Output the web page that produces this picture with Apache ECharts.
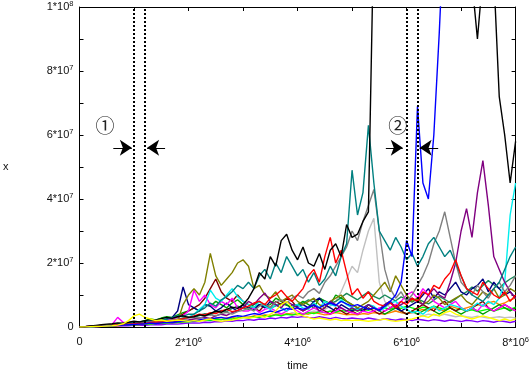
<!DOCTYPE html>
<html>
<head>
<meta charset="utf-8">
<script src="https://cdn.jsdelivr.net/npm/echarts@6/dist/echarts.min.js"></script>
<style>html,body{margin:0;padding:0;background:#fff;}#c{width:532px;height:390px;}</style>
</head>
<body>
<div id="c"></div>
<script>
// time axis, in units of 10^6
const time = [0,0.1,0.2,0.3,0.4,0.5,0.6,0.7,0.8,0.9,1.0,
1.1,1.2,1.3,1.4,1.5,1.6,1.7,1.8,1.9,2.0,
2.1,2.2,2.3,2.4,2.5,2.6,2.7,2.8,2.9,3.0,
3.1,3.2,3.3,3.4,3.5,3.6,3.7,3.8,3.9,4.0,
4.1,4.2,4.3,4.4,4.5,4.6,4.7,4.8,4.9,5.0,
5.1,5.2,5.3,5.4,5.5,5.6,5.7,5.8,5.9,6.0,
6.1,6.2,6.3,6.4,6.5,6.6,6.7,6.8,6.9,7.0,
7.1,7.2,7.3,7.4,7.5,7.6,7.7,7.8,7.9,8.0];

// series values, in units of 10^6
const silver = [0,0.05,0.1,0.15,0.2,0.25,0.3,0.35,0.4,0.5,0.6,
0.7,0.8,0.9,1.0,1.1,1.2,1.3,1.4,1.5,1.6,
1.8,2.0,1.9,2.2,2.4,2.3,2.6,2.8,2.5,3.0,
3.2,3.0,3.5,3.8,3.4,4.0,4.2,3.8,4.5,4.2,
4.0,4.5,5.0,4.6,5.5,6.5,8.0,11,15,19,
17,24,30,34,14,8,6,5,4.5,4,
4.5,4,3.5,4,3.8,3.5,4,3.6,3.2,3.5,
3.2,3.0,3.4,3.1,2.8,3.0,3.2,2.9,3.1,2.8];
const violet = [0,0.05,0.1,0.1,0.2,0.2,0.3,0.3,0.4,0.4,0.5,
0.6,0.5,0.7,0.8,0.7,0.9,1.0,0.9,1.1,1.2,
1.3,1.2,1.5,1.4,1.7,1.6,1.9,1.8,2.1,2.0,
2.3,2.1,2.5,2.4,2.8,2.6,3.0,2.8,3.2,3.0,
3.3,3.0,2.8,3.2,2.9,2.6,3.0,2.7,2.5,2.8,
2.6,2.4,2.8,2.5,2.2,2.6,2.4,2.1,2.5,2.3,
2.0,2.4,2.2,1.9,2.3,2.1,1.8,2.2,2.0,1.7,
2.1,1.9,1.6,2.0,1.8,1.5,1.9,1.7,1.4,1.8];
const orange = [0,0.05,0.1,0.2,0.2,0.3,0.4,0.4,0.5,0.6,0.7,
0.8,0.9,1.0,1.2,1.1,1.3,1.5,1.4,1.6,1.8,
2.0,2.2,2.0,2.4,2.6,2.3,2.8,3.0,2.7,3.2,
3.0,3.5,3.2,3.8,3.5,4.0,3.6,4.2,4.0,3.8,
4.2,4.0,4.5,4.2,3.8,4.0,4.5,4.2,3.8,4.0,
3.8,4.2,4.0,4.5,4.2,4.0,4.5,5.0,4.5,4.2,
4.5,5.0,5.5,5.0,6.0,5.5,5.0,6.5,6.0,5.5,
6.0,6.5,7.0,6.5,7.5,8.0,7.0,7.5,8.5,9.0];
const lime = [0,0.1,0.1,0.2,0.3,0.3,0.4,0.5,0.6,0.6,0.7,
0.8,1.0,0.9,1.1,1.3,1.2,1.5,1.4,1.7,1.6,
1.8,2.0,2.2,2.0,2.4,2.3,2.6,2.4,2.8,3.0,
2.8,3.2,3.0,3.5,3.3,3.8,3.5,4.0,3.7,4.2,
4.0,4.5,4.2,4.8,4.5,5.0,4.6,5.2,4.8,5.5,
5.0,5.5,5.2,5.8,5.4,6.0,5.5,6.2,5.8,6.5,
6.0,5.5,6.2,5.8,6.5,6.0,5.5,6.0,5.2,5.6,
5.0,5.4,4.8,5.2,5.6,5.0,5.5,6.0,5.5,6.2];
const darkgreen = [0,0.1,0.2,0.3,0.3,0.5,0.6,0.6,0.8,0.9,1.0,
1.2,1.4,1.3,1.6,1.8,2.1,1.9,2.4,2.8,3.2,
3.0,3.6,4.2,3.8,4.6,5.2,4.8,5.8,6.5,6.0,
5.5,6.2,7.0,6.4,5.8,6.6,7.4,6.8,6.0,6.8,
7.5,8.5,7.8,9.0,8.2,7.4,8.0,9.2,10.5,9.5,
8.5,9.8,11,9.6,8.8,10,9.0,8.2,9.4,8.6,
7.8,8.8,8.0,7.2,8.4,9.6,8.6,7.6,8.8,10,
11,12.5,11.2,13,14.5,13.2,12,13.8,15,16];
const green = [0,0.1,0.2,0.3,0.5,0.6,0.7,0.9,1.0,1.3,1.6,
1.5,2.0,2.5,2.2,2.8,3.2,3.0,3.8,4.5,5.0,
6,5,7,6.5,8,7,6,7.5,8.5,7,
6,7,8,6.5,7,9,8,7,6,7,
8,7,6,9,8,7,10,9,8,7,
6,5,7,6,5,4,5,6,5,4,
5,4,5,6,5,4,5,6,5,4,
5,6,5,4,5,6,7,6,5,6];
const maroon = [0,0.1,0.2,0.3,0.3,0.4,0.5,0.6,0.8,1.0,1.1,
1.3,1.5,1.4,1.8,2.0,2.4,2.8,3.2,4.0,5.0,
6,7,9,12,15,11,9,8,10,8,
7,6,5,7,6,8,7,9,8,6,
5,6,7,6,5,4,6,5,4,5,
4,5,6,5,4,5,6,7,5,4,
5,6,7,6,5,7,8,6,5,6,
5,6,7,8,6,5,6,7,6,5];
const navy = [0,0.1,0.2,0.2,0.3,0.4,0.5,0.6,0.7,0.8,0.9,
1.0,1.2,1.4,1.5,2.0,2.5,3.0,5.0,12.5,7.0,
6,5,7,6.5,5,6,7.5,6,5,7,
6,5.5,7,6,8,7,6,5,7,6.5,
7,6,8,9,7,6,5,7,6,5,
6,5,7,6,5.5,7,8,6,5,6,
7,8,10,12,9,11,10,12,14,11,
10,12,13,15,11,14,12,10,11,9];
const magenta = [0,0.1,0.2,0.3,0.4,0.5,0.8,3.0,1.5,1.2,1.0,
1.3,1.5,1.8,1.6,2.0,2.2,2.5,3.0,3.5,5.0,
11.5,8,10,7,6,8,7,9,6,5,
5,6,4.5,5.5,6,5,4,5,6,5,
4,5,6,5,4.5,4,5,6,5,4.5,
4,5,4.5,5,6,5,6,7,8,10,
11,9,12,10,8,7,6,7,8,6,
5,6,5,7,6,5,6,7,6,5];
const cyan = [0,0.1,0.1,0.2,0.3,0.4,0.5,0.5,0.6,0.7,0.8,
1.0,1.1,1.3,1.2,1.5,1.8,1.6,2.0,2.4,3.0,
4.0,5.5,7.0,11.5,9.0,8.0,10,12,9.5,8.0,
7.0,6.0,8.0,6.5,5.5,7.0,6.0,5.0,6.5,7.0,
6.0,5.5,7.5,6.0,8.0,7.0,6.5,8.5,7.0,6.0,
5.5,6.0,7.0,6.5,5.0,6.0,7.5,8.0,6.5,5.5,
4.5,5.0,4.0,5.5,6.5,5.0,6.0,7.0,6.5,6.0,
5.0,6.0,7.5,6.5,8.0,7.0,9.0,14,35,45];
const olive = [0,0.1,0.2,0.3,0.4,0.5,0.5,0.6,0.8,0.9,1.1,
1.2,1.4,1.3,1.6,1.9,1.7,2.2,1.8,7,10,
12,10,14,23,16,13,15,17,20,21,
19,12,13,10,9,11,8,9,10,8,
7,8,9,7,6,8,9,10,8,7,
6,7,8,10,12,14,11,16,13,10,
8,9,7,8,10,9,7,8,9,10,
8,7,9,11,10,12,9,10,12,11];
const purple = [0,0.1,0.2,0.2,0.3,0.4,0.5,0.5,0.6,0.7,0.8,
0.9,1.0,1.2,1.1,1.4,1.6,1.5,1.8,2.0,2.2,
2.5,2.8,3.0,2.7,3.5,4.0,3.6,4.5,5.0,6.0,
8,7,9,10.6,8,7,6,8,7,6,
5,6,7,5,6,8,7,6,5,6,
5,6,7,6,5,7,8,6,7,8,
9,8,7,10,12,10,9,14,20,30,
37,28,42,52,38,22,18,14,11,9];
const gray = [0,0.1,0.2,0.3,0.5,0.6,0.7,0.9,1.0,1.1,1.2,
1.3,1.5,1.6,1.8,1.7,2.0,2.2,2.5,2.3,2.8,
3.0,2.8,3.4,3.8,3.5,4.2,4.6,4.0,4.8,5.2,
5.8,5.0,6.5,7.2,6.0,7.8,8.5,7.5,9.0,10,
9,11,12,10.5,14,16,19,22,25,30,
27,33,38,43,30,18,12,9,11,8,
10,13,16,20,26,30,36,28,20,14,
12,10,13,11,9,12,14,11,13,16];
const teal = [0,0.1,0.2,0.4,0.5,0.7,0.8,1.0,1.1,1.3,1.5,
1.4,1.7,2.0,2.2,2.5,2.4,3.0,3.5,3.3,4.0,
4.0,5.0,6.0,7.5,6.5,8.5,9.5,11,13,12,
14,12,16,18,15,20,17,22,19,16,
18,14,17,13,15,19,16,22,26,49,
35,42,63,45,30,27,24,28,25,21,
23,19,22,26,28,25,22,24,20,16,
12,10,9,8,10,12,14,18,22,25];
const red = [0,0.1,0.2,0.3,0.4,0.5,0.6,0.7,0.8,0.9,1.0,
1.2,1.1,1.4,1.6,1.5,1.8,2.0,2.2,2.6,3.0,
3.5,4.0,3.8,4.5,4.2,5.0,5.5,4.8,5.2,6.0,
6.5,7.5,8.0,7.0,9.0,10,11.5,9.5,8.0,10,
12,16,18,14,22,28,20,24,17,10,
12,9,11,8,7,6.5,7.5,6,8,7,
9,8,11,10,13,12,15,17,21,16,
12,11,10,14,12,10,9,11,8,10];
const blue = [0,0.1,0.1,0.2,0.3,0.4,0.4,0.5,0.6,0.7,0.8,
0.9,1.0,1.2,1.1,1.3,1.5,1.4,1.6,1.8,2.0,
1.8,2.2,2.5,2.3,2.8,3.0,2.7,3.2,3.5,3.3,
3.8,4.2,3.9,4.5,5.0,4.6,5.2,5.8,5.5,6.0,
5.5,6.2,6.8,6.0,7.0,7.5,6.8,8.0,7.2,6.5,
7.0,6.2,5.5,6.0,5.2,6.5,8.0,10,14,27,
22,69,45,40,60,92,130,150,160,160,
160,160,160,160,160,160,160,160,160,160];
const black = [0,0.1,0.3,0.5,0.7,0.9,1.0,1.3,1.2,1.5,1.8,
1.6,2.0,2.3,2.1,2.6,3.0,2.7,3.2,3.5,3.0,
3.2,3.8,3.5,4.2,5.0,4.6,5.5,6.2,5.8,7.0,
9,12,17,15,22,19,27,29,24,21,
25,20,19,23,18,24,26,22,32,28,
29,33,36,125,140,150,160,150,140,150,
160,150,140,150,160,150,140,130,120,115,
112,108,90,110,125,110,72,60,45,58];
const yellow = [0,0.05,0.1,0.15,0.2,0.3,0.4,0.6,1.0,2.0,3.5,
4.0,3.0,2.5,2.0,2.2,1.8,2.0,2.2,2.0,1.8,
2.0,1.8,2.2,2.5,2.0,1.8,2.0,2.2,2.5,3.0,
2.8,3.0,3.5,3.0,4.0,5.0,7.0,8.0,6.0,4.0,
3.5,3.0,2.5,2.8,2.5,2.2,2.5,2.0,2.2,2.0,
2.2,2.0,1.8,2.0,2.2,2.5,2.0,1.8,2.0,2.2,
2.5,3.0,3.5,3.0,4.0,3.5,4.5,5.0,4.0,3.5,
3.0,2.5,3.0,3.5,3.0,2.5,2.0,2.5,2.0,2.5];

const seriesList = [
  ['silver', silver, '#c0c0c0'],
  ['violet', violet, '#8000ff'],
  ['orange', orange, '#ff8000'],
  ['lime', lime, '#00ff00'],
  ['darkgreen', darkgreen, '#1a8a5a'],
  ['green', green, '#00a000'],
  ['maroon', maroon, '#800000'],
  ['navy', navy, '#000080'],
  ['magenta', magenta, '#ff00ff'],
  ['cyan', cyan, '#00eeee'],
  ['olive', olive, '#808000'],
  ['purple', purple, '#800080'],
  ['gray', gray, '#808080'],
  ['teal', teal, '#008080'],
  ['red', red, '#ff0000'],
  ['blue', blue, '#0000ff'],
  ['black', black, '#000000'],
  ['yellow', yellow, '#ffff00']
];

// tick labels
const xTicks = ['0', '2*10^6', '4*10^6', '6*10^6', '8*10^6'];
const yTicks = ['0', '2*10^7', '4*10^7', '6*10^7', '8*10^7', '1*10^8'];

// annotations (data units)
const gapLines = [1.0, 1.2, 6.0, 6.2];
const arrowY = 56;
const arrows = [[0.62, 0.96], [1.57, 1.24], [5.62, 5.93], [6.58, 6.24]];
const circleLabels = [['①', 0.47, 63], ['②', 5.84, 63]];

function richLabel(s) {
  const p = s.split('^');
  return p.length > 1 ? '{b|' + p[0] + '}{s|' + p[1] + '}' : '{b|' + s + '}';
}
const rich = {
  b: { fontSize: 11, fontFamily: 'Liberation Sans', color: '#111' },
  s: { fontSize: 7.5, fontFamily: 'Liberation Sans', color: '#111', padding: [0, 0, 6, 0] }
};

const chart = echarts.init(document.getElementById('c'), null, { renderer: 'canvas' });

const series = seriesList.map(([name, vals, color]) => ({
  name, type: 'line', xAxisIndex: 0, yAxisIndex: 0,
  data: time.map((t, i) => [t, vals[i]]),
  showSymbol: false, symbol: 'none',
  lineStyle: { width: 1.4, color }, itemStyle: { color },
  clip: true, silent: true, animation: false
}));

// dotted gap lines on top-most series
series[series.length - 1].markLine = {
  silent: true, animation: false, symbol: ['none', 'none'],
  label: { show: false }, emphasis: { disabled: true },
  lineStyle: { type: [2, 2], width: 2, color: '#000', cap: 'butt' },
  data: gapLines.map(x => ({ xAxis: x }))
};

// arrows + circled numbers on black series
const blackS = series.find(s => s.name === 'black');
blackS.markLine = {
  silent: true, animation: false, symbol: ['none', 'arrow'], symbolSize: 12,
  label: { show: false }, emphasis: { disabled: true },
  lineStyle: { type: 'solid', width: 1, color: '#000' },
  itemStyle: { color: '#000' },
  data: arrows.map(([a, b]) => [{ coord: [a, arrowY] }, { coord: [b, arrowY] }])
};
blackS.markPoint = {
  silent: true, animation: false,
  data: circleLabels.map(([txt, x, y]) => ({
    coord: [x, y], symbol: 'circle', symbolSize: 1,
    itemStyle: { color: 'rgba(0,0,0,0)' },
    label: { show: true, position: 'inside', formatter: txt, fontSize: 19, color: '#222', fontFamily: 'Noto Sans CJK JP' }
  }))
};

const tickCommon = { show: true, inside: true, length: 4, lineStyle: { color: '#000', width: 1 } };
const minorCommon = { show: true, splitNumber: 2, length: 4, lineStyle: { color: '#000', width: 1 } };

chart.setOption({
  animation: false,
  backgroundColor: '#fff',
  grid: { left: 78, top: 7, right: 14, bottom: 63, containLabel: false },
  xAxis: [{
    type: 'value', min: 0, max: 8, interval: 2, position: 'bottom',
    name: 'time', nameLocation: 'middle', nameGap: 33,
    nameTextStyle: { fontSize: 11, fontFamily: 'Liberation Sans', color: '#111' },
    axisLine: { show: true, onZero: false, lineStyle: { color: '#000', width: 1 } },
    axisTick: tickCommon, minorTick: minorCommon,
    splitLine: { show: false },
    axisLabel: { margin: 9, showMinLabel: true, showMaxLabel: true,
      formatter: v => richLabel(xTicks[Math.round(v / 2)]), rich }
  }, {
    type: 'value', min: 0, max: 8, interval: 2, position: 'top',
    axisLine: { show: true, onZero: false, lineStyle: { color: '#000', width: 1 } },
    axisTick: tickCommon, minorTick: minorCommon,
    splitLine: { show: false }, axisLabel: { show: false }
  }],
  yAxis: [{
    type: 'value', min: 0, max: 100, interval: 20, position: 'left',
    name: 'x', nameLocation: 'middle', nameGap: 71, nameRotate: 0,
    nameTextStyle: { fontSize: 11, fontFamily: 'Liberation Sans', color: '#111' },
    axisLine: { show: true, onZero: false, lineStyle: { color: '#000', width: 1 } },
    axisTick: tickCommon, minorTick: minorCommon,
    splitLine: { show: false },
    axisLabel: { margin: 6, formatter: v => richLabel(yTicks[Math.round(v / 20)]), rich }
  }, {
    type: 'value', min: 0, max: 100, interval: 20, position: 'right',
    axisLine: { show: true, onZero: false, lineStyle: { color: '#000', width: 1 } },
    axisTick: tickCommon, minorTick: minorCommon,
    splitLine: { show: false }, axisLabel: { show: false }
  }],
  series
});
</script>
</body>
</html>
